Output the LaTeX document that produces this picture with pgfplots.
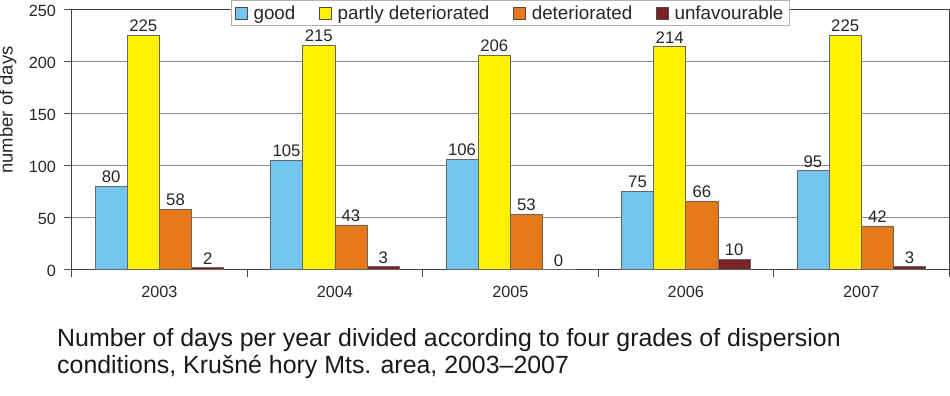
\documentclass[border=0pt]{standalone}
\usepackage{pgfplots}
\pgfplotsset{compat=1.18}
\usepackage{fontspec}
\setmainfont{Liberation Sans}
\definecolor{cgood}{RGB}{115,197,240}
\definecolor{cpartly}{RGB}{255,242,0}
\definecolor{cdet}{RGB}{229,120,25}
\definecolor{cunf}{RGB}{122,34,38}
\begin{document}
\begin{tikzpicture}
\path[use as bounding box] (-71.7bp,-126.3bp) rectangle (878.3bp,269.7bp);
\begin{axis}[
  name=ax,
  at={(0,0)}, anchor=south west,
  scale only axis, width=877.3bp, height=260.7bp,
  xmin=-0.5, xmax=4.5, ymin=0, ymax=250,
  ybar=0pt, bar width=32.2bp,
  xtick={-0.5,0.5,1.5,2.5,3.5,4.5}, xticklabels={},
  extra x ticks={0,1,2,3,4},
  extra x tick labels={2003,2004,2005,2006,2007},
  extra x tick style={major tick length=0pt, grid=none,
    xticklabel style={anchor=base, inner sep=0pt, yshift=-27.3bp}},
  ytick={0,50,100,150,200,250},
  tick align=outside, tick pos=left,
  major tick length=7.5bp,
  tick style={black!70, line width=0.9bp},
  ymajorgrids,
  major grid style={gray!90, line width=0.9bp},
  axis line style={black!75, line width=0.9bp},
  /pgf/number format/assume math mode=true,
  ticklabel style={font=\fontsize{16.3}{17}\selectfont, text=black!85},
  yticklabel style={anchor=east, inner sep=0pt, xshift=-8bp, yshift=-1.5bp},
  nodes near coords,
  every node near coord/.append style={font=\fontsize{16.8}{17}\selectfont, anchor=south, inner sep=0pt, yshift=3bp, text=black!85},
  legend columns=4,
  legend style={at={(0.5,0.9835)}, anchor=center, draw=gray!60, fill=white,
    line width=0.9bp,
    font=\fontsize{18.9}{20}\selectfont, text=black!85,
    inner xsep=4bp, inner ysep=3bp,
    /tikz/every odd column/.append style={column sep=4bp},
    /tikz/every even column/.append style={column sep=22bp}},
  legend image code/.code={\draw[#1, draw=black!70, line width=0.7bp] (0bp,-5.8bp) rectangle (11.6bp,5.8bp);},
]
\addplot[fill=cgood, draw=black!60, line width=0.7bp] coordinates {(0,80) (1,105) (2,106) (3,75) (4,95)};
\addplot[fill=cpartly, draw=black!60, line width=0.7bp] coordinates {(0,225) (1,215) (2,206) (3,214) (4,225)};
\addplot[fill=cdet, draw=black!60, line width=0.7bp] coordinates {(0,58) (1,43) (2,53) (3,66) (4,42)};
\addplot[fill=cunf, draw=black!60, line width=0.7bp] coordinates {(0,2) (1,3) (2,0) (3,10) (4,3)};
\legend{good, partly deteriorated, deteriorated, unfavourable}
\end{axis}
\node[rotate=90, anchor=base, font=\fontsize{18.5}{20}\selectfont, text=black!85] at (-59bp,159.7bp) {number of days};
\node[anchor=base west, inner sep=0pt, font=\fontsize{25}{27}\selectfont, text=black!90] at (-14.7bp,-76.3bp) {Number of days per year divided according to four grades of dispersion};
\node[anchor=base west, inner sep=0pt, font=\fontsize{25}{27}\selectfont, text=black!90] at (-14.7bp,-103.6bp) {conditions, Krušné hory Mts. area, 2003–2007};
\end{tikzpicture}
\end{document}
